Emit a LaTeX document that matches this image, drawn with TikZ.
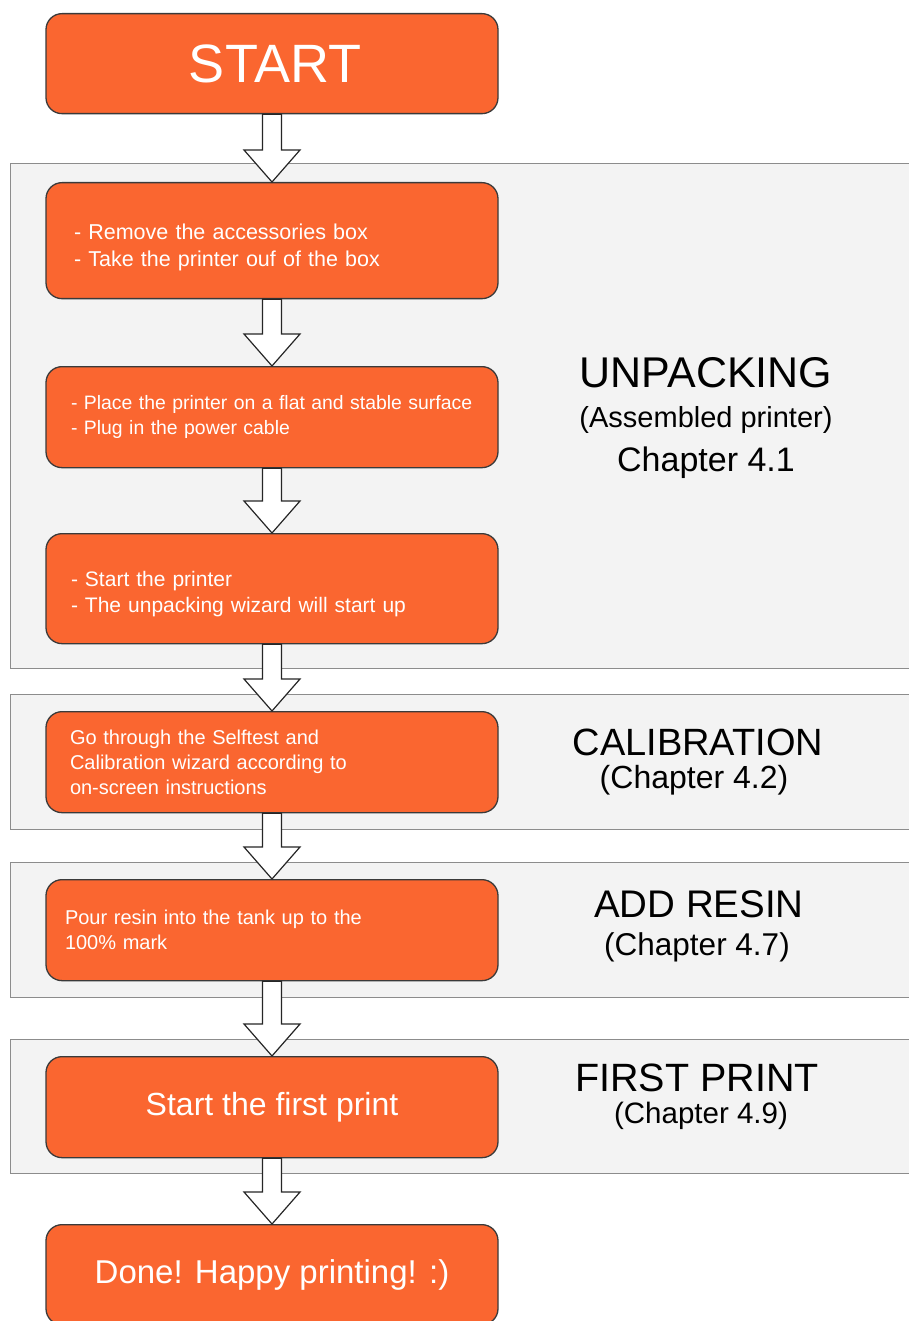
\documentclass[tikz,border=0pt]{standalone}
\usepackage{fontspec}
\setmainfont{Liberation Sans}
\usetikzlibrary{calc}
\definecolor{boxorange}{HTML}{FA6630}
\definecolor{boxedge}{HTML}{3A3A3A}
\definecolor{grpfill}{HTML}{F3F3F3}
\definecolor{grpedge}{HTML}{8C8C8C}
\newcommand{\fs}[1]{\fontsize{#1}{#1}\selectfont}
\newcommand{\flowarrowdraw}[2]{\draw[flowarr] let \p1=(#1.south), \p2=(#2.north) in
  (\x1-9.5pt,\y1) -- (\x1-9.5pt,\y2+32pt) -- (\x1-28pt,\y2+32pt) -- (\x1,\y2)
  -- (\x1+28pt,\y2+32pt) -- (\x1+9.5pt,\y2+32pt) -- (\x1+9.5pt,\y1) -- cycle;}
\begin{document}
\begin{tikzpicture}[x=1pt,y=-1pt,
  stepbox/.style={draw=boxedge, line width=1.3pt, fill=boxorange, rounded corners=16pt,
    minimum width=452pt, text=white, inner sep=0pt, anchor=north},
  listbox/.style={stepbox, align=left},
  grp/.style={draw=grpedge, line width=1.3pt, fill=grpfill, anchor=north west, minimum width=910pt, inner sep=0pt},
  flowarr/.style={draw=black!85, line width=1.2pt, fill=white, line join=miter},
  grplabel/.style={anchor=base, text=black, inner sep=0pt}]
\useasboundingbox (0,0) rectangle (908,1321);
\fill[white] (0,0) rectangle (908,1321);
% groups
\node[grp, minimum height=505pt] (gunp) at (10,163) {};
\node[grp, minimum height=135pt] (gcal) at (10,694) {};
\node[grp, minimum height=135pt] (gres) at (10,862) {};
\node[grp, minimum height=134pt] (gfirst) at (10,1039) {};
% steps
\node[stepbox, minimum height=100pt, font=\fs{54}] (start) at (272,13) {\hspace*{6pt}START};
\node[listbox, minimum height=116pt, text width=396pt, font=\fontsize{21.5}{27}\selectfont] (b1) at (272,182)
  {\rule{0pt}{29pt}- Remove the accessories box\\- Take the printer ouf of the box};
\node[listbox, minimum height=101pt, text width=402pt, font=\fontsize{19.4}{25}\selectfont] (b2) at (272,366)
  {\makebox[402pt][l]{- Place the printer on a flat and stable surface}\\- Plug in the power cable};
\node[listbox, minimum height=110pt, text width=402pt, font=\fontsize{21}{26}\selectfont] (b3) at (272,533)
  {\rule{0pt}{26pt}- Start the printer\\- The unpacking wizard will start up};
\node[listbox, minimum height=101pt, text width=404pt, font=\fontsize{20}{25}\selectfont] (b4) at (272,711)
  {Go through the Selftest and\\Calibration wizard according to\\on-screen instructions};
\node[listbox, minimum height=101pt, text width=414pt, font=\fontsize{20}{25}\selectfont] (b5) at (272,879)
  {Pour resin into the tank up to the\\100\% mark};
\node[stepbox, minimum height=101pt, font=\fs{32}] (b6) at (272,1056) {Start the first print};
\node[stepbox, minimum height=100pt, font=\fs{33}] (done) at (272,1224) {Done! Happy printing! :)};
% group labels
\node[grplabel, font=\fs{43}] (unpT) at (706,387) {UNPACKING};
\node[grplabel, font=\fs{29}] (unpS) at (706,427) {(Assembled printer)};
\node[grplabel, font=\fs{34}] (unpC) at (706,471) {Chapter 4.1};
\node[grplabel, font=\fs{38}] (calT) at (698,755) {CALIBRATION};
\node[grplabel, font=\fs{32}] (calC) at (694,788) {(Chapter 4.2)};
\node[grplabel, font=\fs{38.5}] (resT) at (699,917) {ADD RESIN};
\node[grplabel, font=\fs{31.5}] (resC) at (697,955) {(Chapter 4.7)};
\node[grplabel, font=\fs{39.5}] (firT) at (697,1091) {FIRST PRINT};
\node[grplabel, font=\fs{29.5}] (firC) at (701,1123) {(Chapter 4.9)};
% arrows
\flowarrowdraw{start}{b1}
\flowarrowdraw{b1}{b2}
\flowarrowdraw{b2}{b3}
\flowarrowdraw{b3}{b4}
\flowarrowdraw{b4}{b5}
\flowarrowdraw{b5}{b6}
\flowarrowdraw{b6}{done}
\end{tikzpicture}
\end{document}
